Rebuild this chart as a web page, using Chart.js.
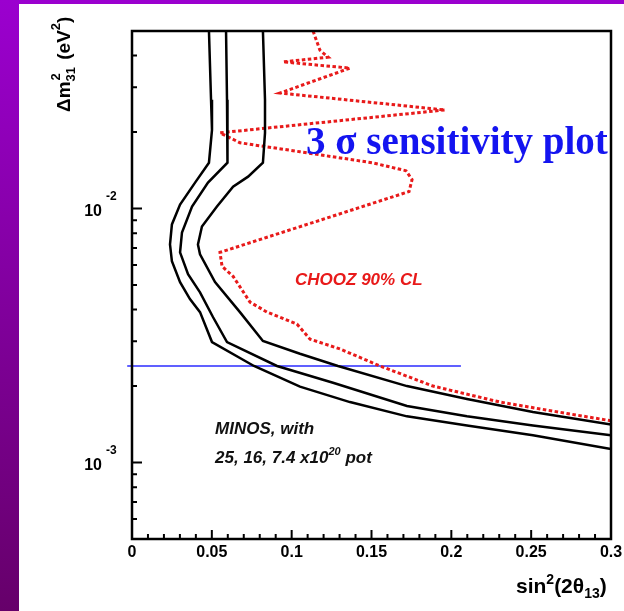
<!DOCTYPE html>
<html>
<head>
<meta charset="utf-8">
<script src="https://cdn.jsdelivr.net/npm/chart.js@4.4.1/dist/chart.umd.min.js"></script>
<style>
html,body{margin:0;padding:0;background:#fff;}
canvas{display:block;}
</style>
</head>
<body>
<canvas id="c" width="624" height="611"></canvas>
<script>
// MINOS 3 sigma sensitivity contours for three exposures, with the CHOOZ 90% CL limit
const innerX  = [0.0482,0.0495,0.0501,0.0482,0.0395,0.0301,0.0250,0.0238,0.0250,0.0301,0.0363,0.0426,0.0501,0.0764,0.1052,0.1365,0.1722,0.2098,0.2511,0.3];
const innerY  = [0.05,0.0268,0.0204,0.01515,0.01265,0.01037,0.00866,0.00722,0.0062,0.00513,0.0044,0.00391,0.00298,0.0024,0.00199,0.00173,0.00152,0.0014,0.00128,0.00113];

const middleX = [0.0589,0.0595,0.0601,0.0595,0.0476,0.0376,0.0313,0.0301,0.0351,0.0426,0.0507,0.0595,0.0908,0.1259,0.1722,0.2098,0.2511,0.3];
const middleY = [0.05,0.0268,0.0204,0.01515,0.01265,0.01018,0.00805,0.00672,0.00551,0.00468,0.00374,0.00298,0.0024,0.00206,0.00167,0.00152,0.0014,0.00128];

const outerX  = [0.0820,0.0833,0.0833,0.0820,0.0727,0.0633,0.0532,0.0438,0.0413,0.0426,0.0520,0.0676,0.0820,0.1052,0.1290,0.1722,0.2098,0.2511,0.3];
const outerY  = [0.05,0.0268,0.01986,0.01515,0.01335,0.0122,0.01018,0.0085,0.00722,0.0066,0.00513,0.00391,0.00301,0.00268,0.0024,0.0020,0.00178,0.00158,0.00141];

const choozX  = [0.1134,0.1177,0.1228,0.0946,0.1365,0.0927,0.1960,0.0551,0.0676,0.1052,0.1503,0.1716,0.1754,0.1735,0.0551,0.0564,0.0633,0.0739,0.0846,0.1033,0.1115,0.1303,0.1553,0.1885,0.2305,0.2724,0.3];
const choozY  = [0.05,0.0420,0.03945,0.0378,0.03571,0.0285,0.02444,0.01986,0.01815,0.01673,0.01515,0.01409,0.0130,0.01166,0.00672,0.00592,0.00541,0.00428,0.00391,0.00351,0.00306,0.0028,0.0024,0.0020,0.00173,0.00156,0.00146];

// reference value of the mass splitting, drawn as a horizontal marker
const dm2Ref   = 0.0024;
const dm2RefX  = [-0.003, 0.206];

const xTickValues = [0, 0.05, 0.1, 0.15, 0.2, 0.25, 0.3];
const xTickLabels = ['0', '0.05', '0.1', '0.15', '0.2', '0.25', '0.3'];
const yTickValues = [1e-3, 1e-2];
const yTickExps   = ['-3', '-2'];
const yMinorTicks = [6e-4,7e-4,8e-4,9e-4,2e-3,3e-3,4e-3,5e-3,6e-3,7e-3,8e-3,9e-3,2e-2,3e-2,4e-2];

const pts = (xs, ys) => xs.map((x, i) => ({x: x, y: ys[i]}));

const SANS = "'Liberation Sans', Arial, Helvetica, sans-serif";

function drawParts(ctx, x, y, parts) {
  // parts: [{t, f, dy}] drawn left to right from (x, y)
  let cx = x;
  for (const p of parts) {
    ctx.font = p.f;
    ctx.fillText(p.t, cx, y + (p.dy || 0));
    cx += ctx.measureText(p.t).width;
  }
  return cx;
}

const pagePlugin = {
  id: 'page',
  beforeDraw(chart) {
    const ctx = chart.ctx;
    const g = ctx.createLinearGradient(0, 0, 0, chart.height);
    g.addColorStop(0, '#9b00cf');
    g.addColorStop(1, '#66006a');
    ctx.save();
    ctx.fillStyle = g;
    ctx.fillRect(0, 0, chart.width, chart.height);
    ctx.fillStyle = '#ffffff';
    ctx.fillRect(19, 4, chart.width - 19, chart.height - 4);
    ctx.restore();
  }
};

const framePlugin = {
  id: 'frame',
  afterDraw(chart) {
    const ctx = chart.ctx;
    const a = chart.chartArea;
    const xs = chart.scales.x, ys = chart.scales.y;
    ctx.save();
    ctx.strokeStyle = '#000';
    ctx.fillStyle = '#000';

    // inward ticks on the bottom axis
    ctx.lineWidth = 2;
    ctx.beginPath();
    for (let k = 1; k < 30; k++) {
      const v = k / 100;
      const px = xs.getPixelForValue(v);
      const len = (k % 5 === 0) ? 9 : 5;
      ctx.moveTo(px, a.bottom);
      ctx.lineTo(px, a.bottom - len);
    }
    // inward ticks on the left axis
    for (const v of yMinorTicks) {
      const py = ys.getPixelForValue(v);
      ctx.moveTo(a.left, py);
      ctx.lineTo(a.left + 5, py);
    }
    for (const v of yTickValues) {
      const py = ys.getPixelForValue(v);
      ctx.moveTo(a.left, py);
      ctx.lineTo(a.left + 10, py);
    }
    ctx.stroke();

    // frame
    ctx.lineWidth = 2.5;
    ctx.strokeRect(a.left, a.top, a.right - a.left, a.bottom - a.top);

    // x tick labels
    ctx.font = 'bold 16px ' + SANS;
    ctx.textAlign = 'center';
    ctx.textBaseline = 'alphabetic';
    xTickValues.forEach((v, i) => {
      ctx.fillText(xTickLabels[i], xs.getPixelForValue(v), a.bottom + 18);
    });

    // y tick labels: 10 with exponent
    yTickValues.forEach((v, i) => {
      const py = ys.getPixelForValue(v);
      ctx.font = 'bold 16px ' + SANS;
      ctx.textAlign = 'right';
      ctx.fillText('10', a.left - 30, py + 7);
      ctx.font = 'bold 12px ' + SANS;
      ctx.textAlign = 'left';
      ctx.fillText(yTickExps[i], a.left - 26, py - 9);
    });

    // x axis title
    ctx.textAlign = 'left';
    const big = 'bold 21px ' + SANS, sm = 'bold 14px ' + SANS;
    drawParts(ctx, 516, a.bottom + 54, [
      {t: 'sin', f: big}, {t: '2', f: sm, dy: -9}, {t: '(2\u03B8', f: big},
      {t: '13', f: sm, dy: 5}, {t: ')', f: big}
    ]);

    // y axis title, reading upward
    ctx.save();
    ctx.translate(70, 112);
    ctx.rotate(-Math.PI / 2);
    let cx = drawParts(ctx, 0, 0, [{t: '\u0394m', f: 'bold 19px ' + SANS}]);
    ctx.font = 'bold 13px ' + SANS;
    ctx.fillText('2', cx + 1, -10);
    ctx.fillText('31', cx, 5);
    cx += ctx.measureText('31').width + 2;
    cx = drawParts(ctx, cx, 0, [{t: ' (eV', f: 'bold 19px ' + SANS}]);
    cx = drawParts(ctx, cx, 0, [{t: '2', f: 'bold 13px ' + SANS, dy: -10}]);
    drawParts(ctx, cx, 0, [{t: ')', f: 'bold 19px ' + SANS}]);
    ctx.restore();

    // annotations
    ctx.textAlign = 'left';
    ctx.fillStyle = '#1414f0';
    ctx.font = "bold 39px 'Liberation Serif', 'Times New Roman', serif";
    ctx.fillText('3 \u03C3 sensitivity plot', xs.getPixelForValue(0.109), ys.getPixelForValue(0.01643));

    ctx.fillStyle = '#e81a1a';
    ctx.font = 'italic bold 17px ' + SANS;
    ctx.fillText('CHOOZ 90% CL', xs.getPixelForValue(0.1021), ys.getPixelForValue(0.005));

    ctx.fillStyle = '#111';
    const mx = xs.getPixelForValue(0.052);
    ctx.font = 'italic bold 17px ' + SANS;
    ctx.fillText('MINOS, with', mx, ys.getPixelForValue(0.0013));
    drawParts(ctx, mx, ys.getPixelForValue(0.001), [
      {t: '25, 16, 7.4 x10', f: 'italic bold 17px ' + SANS},
      {t: '20', f: 'italic bold 11px ' + SANS, dy: -8},
      {t: ' pot', f: 'italic bold 17px ' + SANS}
    ]);
    ctx.restore();
  }
};

const blackLine = {borderColor: '#000', borderWidth: 2.5, pointRadius: 0, showLine: true, tension: 0, fill: false};

new Chart(document.getElementById('c'), {
  type: 'scatter',
  data: {
    datasets: [
      Object.assign({label: '7.4e20 pot', data: pts(outerX, outerY)}, blackLine),
      Object.assign({label: '16e20 pot', data: pts(middleX, middleY)}, blackLine),
      Object.assign({label: '25e20 pot', data: pts(innerX, innerY)}, blackLine),
      {label: 'CHOOZ 90% CL', data: pts(choozX, choozY), borderColor: '#e81a1a', borderWidth: 3,
       borderDash: [3.5, 2.5], borderCapStyle: 'butt', pointRadius: 0, showLine: true, tension: 0},
      {label: 'dm2', data: dm2RefX.map(x => ({x: x, y: dm2Ref})), borderColor: '#2b2bff', borderWidth: 1.5,
       pointRadius: 0, showLine: true, clip: false}
    ]
  },
  options: {
    responsive: false,
    animation: false,
    events: [],
    layout: {padding: {left: 132, right: 13, top: 31, bottom: 72}},
    plugins: {legend: {display: false}, tooltip: {enabled: false}},
    scales: {
      x: {type: 'linear', min: 0, max: 0.3, display: false},
      y: {type: 'logarithmic', min: 5e-4, max: 5e-2, display: false}
    }
  },
  plugins: [pagePlugin, framePlugin]
});
</script>
</body>
</html>
